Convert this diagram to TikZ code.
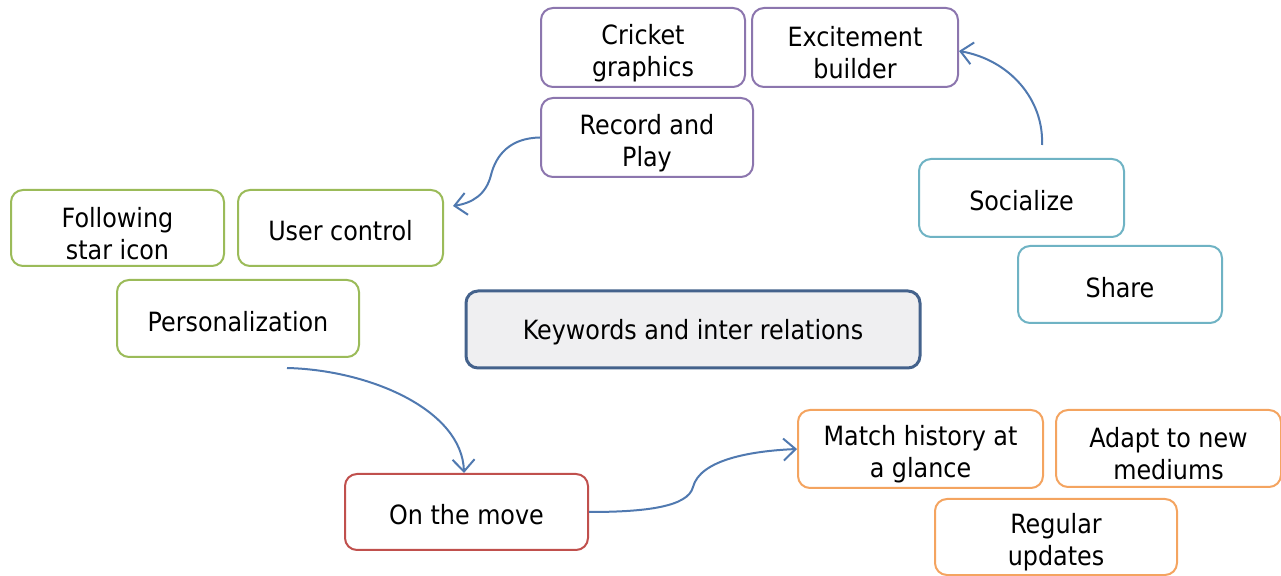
\documentclass[tikz,border=0pt]{standalone}
\usepackage{fontspec}
\setmainfont{DejaVu Sans Condensed}
\usetikzlibrary{arrows.meta}
\definecolor{cpurple}{HTML}{8C76AE}
\definecolor{cgreen}{HTML}{9BBB59}
\definecolor{cteal}{HTML}{6FB3C4}
\definecolor{cred}{HTML}{C0504D}
\definecolor{corange}{HTML}{F4A460}
\definecolor{cblue}{HTML}{5079B0}
\definecolor{cnavy}{HTML}{44628C}
\definecolor{cgray}{HTML}{EFEFF1}
% extra room above the first line of a two-line label
\newcommand{\toppad}{\rule{0pt}{31pt}}
\tikzset{
  box/.style={draw, line width=2pt, rounded corners=12pt, fill=white,
    align=center, font=\fontsize{26.5}{32}\selectfont, inner sep=0pt,
    execute at begin node={\rule{0pt}{26pt}}},
  wh/.style 2 args={minimum width=#1pt, minimum height=#2pt},
  pbox/.style={box, draw=cpurple},
  gbox/.style={box, draw=cgreen},
  tbox/.style={box, draw=cteal},
  rbox/.style={box, draw=cred},
  obox/.style={box, draw=corange},
  keybox/.style={box, draw=cnavy, line width=3pt, fill=cgray},
  link/.style={draw=cblue, line width=2pt,
    -{Straight Barb[length=12pt,width=22pt,line width=2pt]}},
  x=1pt, y=1pt
}
\begin{document}
\begin{tikzpicture}
\useasboundingbox (0,0) rectangle (1281,575);
% purple group
\node[pbox, wh={204}{79}] (cg) at (643,527.5) {\toppad Cricket\\graphics};
\node[pbox, wh={206}{79}] (eb) at (855,527.5) {\toppad Excitement\\builder};
\node[pbox, wh={212}{79}] (rp) at (647,437.5) {\toppad Record and\\Play};
% green group
\node[gbox, wh={213}{76}] (fs) at (117.5,347) {\toppad Following\\star icon};
\node[gbox, wh={205}{76}] (uc) at (340.5,347) {User control};
\node[gbox, wh={242}{77}] (pers) at (238,256.5) {Personalization};
% centre
\node[keybox, wh={454}{77}] (kw) at (693,245.5) {Keywords and inter relations};
% teal group
\node[tbox, wh={205}{78}] (soc) at (1021.5,377) {Socialize};
\node[tbox, wh={204}{77}] (share) at (1120,290.5) {Share};
% red
\node[rbox, wh={243}{76}] (otm) at (466.5,63) {On the move};
% orange group
\node[obox, wh={245}{78}] (mh) at (920.5,126) {\toppad Match history at\\a glance};
\node[obox, wh={225}{77}] (ad) at (1168.5,126.5) {\toppad Adapt to new\\mediums};
\node[obox, wh={242}{76}] (ru) at (1056,38) {\toppad Regular\\updates};
% connector ends
\coordinate (ucin) at (453,369);
\coordinate (ebin) at (959,524);
\coordinate (socout) at (1042,430);
\coordinate (persout) at (287,207);
% connectors
\draw[link] (rp.west) .. controls (510,437) and (496,420) .. (491,400)
  .. controls (486,380) and (472,372) .. (ucin);
\draw[link] (socout) .. controls (1044,475) and (1010,515) .. (ebin);
\draw[link] (persout) .. controls (370,205) and (462,165) .. (otm.north -| 464,0);
\draw[link] (otm.east) .. controls (645,63) and (688,68) .. (693,88)
  .. controls (700,115) and (750,124) .. (mh.west);
\end{tikzpicture}
\end{document}
